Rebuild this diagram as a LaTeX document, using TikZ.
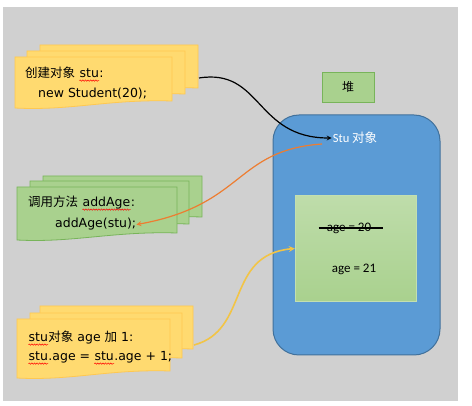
\documentclass[tikz,border=0pt]{standalone}
\usepackage{fontspec}
\setmainfont{Carlito}
\newfontfamily\cjk{Noto Sans CJK SC}
\newfontfamily\notefont{DejaVu Sans}
\usetikzlibrary{arrows, calc, decorations.pathmorphing}
\definecolor{bggray}{RGB}{208,208,208}
\definecolor{noteyellow}{RGB}{255,218,112}
\definecolor{noteyellowline}{RGB}{255,200,80}
\definecolor{notegreen}{RGB}{169,209,142}
\definecolor{notegreenline}{RGB}{120,180,90}
\definecolor{heapblue}{RGB}{91,155,213}
\definecolor{heapblueline}{RGB}{65,113,156}
\definecolor{myorange}{RGB}{237,125,49}
\definecolor{myyellow}{RGB}{242,196,70}
% red wavy spell-check line under a word
\newcommand\spellmark[1]{\tikz[baseline=(w.base), x=1pt, y=1pt]{%
  \node[inner sep=0pt] (w) {#1};
  \draw[red, line width=0.5pt, decorate, decoration={snake, amplitude=0.7pt, segment length=2.6pt}]
    ([yshift=-2.6pt]w.base west) -- ([yshift=-2.6pt]w.base east);}}
% one sheet of a note stack: x, y, width, height, style
\newcommand\sheet[5]{%
  \draw[#5] (#1,#2) -- (#1+#3,#2) -- (#1+#3,#2+#4-7)
    .. controls (#1+0.6*#3,#2+#4-9) and (#1+0.35*#3,#2+#4+3) .. (#1,#2+#4) -- cycle;}
\tikzstyle{yellowsheet} = [fill=noteyellow, draw=noteyellowline, line width=0.8pt]
\tikzstyle{greensheet} = [fill=notegreen, draw=notegreenline, line width=0.8pt]
\tikzstyle{notetext} = [anchor=base west, inner sep=0pt, font=\notefont\fontsize{12.5}{14}\selectfont]
\tikzstyle{agetext} = [inner sep=1pt, font=\fontsize{13}{15}\selectfont]
\tikzstyle{arrow} = [line width=1.2pt,->,>=stealth]

\begin{document}
\begin{tikzpicture}[x=1pt, y=-1pt]
    \useasboundingbox[fill=white] (0,0) rectangle (472,406);
    \fill[bggray] (3,7) rectangle (458,401);
    % note stacks
    \sheet{40}{45}{158}{50}{yellowsheet}
    \sheet{27}{51}{158}{50}{yellowsheet}
    \sheet{15}{57}{157}{51}{yellowsheet}
    \sheet{43}{176}{159}{48}{greensheet}
    \sheet{30}{181}{159}{50}{greensheet}
    \sheet{17}{187}{160}{53}{greensheet}
    \sheet{40}{306}{153}{50}{yellowsheet}
    \sheet{30}{313}{152}{52}{yellowsheet}
    \sheet{17}{319}{153}{59}{yellowsheet}
    \node[notetext] (newA) at (25,78) {{\cjk 创建对象} \spellmark{stu}:};
    \node[notetext] (newB) at (38,98) {new Student(20);};
    \node[notetext] (callA) at (28,207) {{\cjk 调用方法} \spellmark{addAge}:};
    \node[notetext] (callB) at (55,228) {addAge(stu);};
    \node[notetext] (incA) at (28,342) {\spellmark{stu}{\cjk 对象} age {\cjk 加} 1:};
    \node[notetext] (incB) at (28,361) {\spellmark{stu}.age = \spellmark{stu}.age + 1;};
    \coordinate (newout) at (199,78);
    \coordinate (incout) at (194,345);
    % heap
    \node[draw=notegreenline, fill=notegreen, minimum width=52pt, minimum height=30pt,
          font=\cjk\fontsize{12}{14}\selectfont] (heap) at (348,87) {堆};
    \draw[heapblueline, fill=heapblue, line width=1pt, rounded corners=26pt] (273,115) rectangle (440,355);
    \node[text=white, inner sep=1pt, font=\fontsize{12.5}{14}\selectfont] (stu) at (355,138) {Stu {\cjk 对象}};
    \coordinate (stuout) at (322,144);
    \node[draw=notegreen!70!white, top color=notegreen!75!white, bottom color=notegreen,
          minimum width=121pt, minimum height=106pt] (agebox) at (355.5,248.5) {};
    \node[agetext] (oldage) at (349,228) {age = 20};
    \draw[line width=1.6pt] ([xshift=-7pt]oldage.west) -- ([xshift=11pt]oldage.east);
    \node[agetext] (newage) at (354,269) {age = 21};
    % connectors
    \draw[arrow, black] (newout) .. controls (262,68) and (255,138) .. (stu.west);
    \draw[arrow, myorange] (stuout) .. controls (235,150) and (245,205) .. (callB.east);
    \draw[arrow, myyellow, line width=1.6pt] (incout) .. controls (250,330) and (225,255) .. (agebox.west);
\end{tikzpicture}
\end{document}
